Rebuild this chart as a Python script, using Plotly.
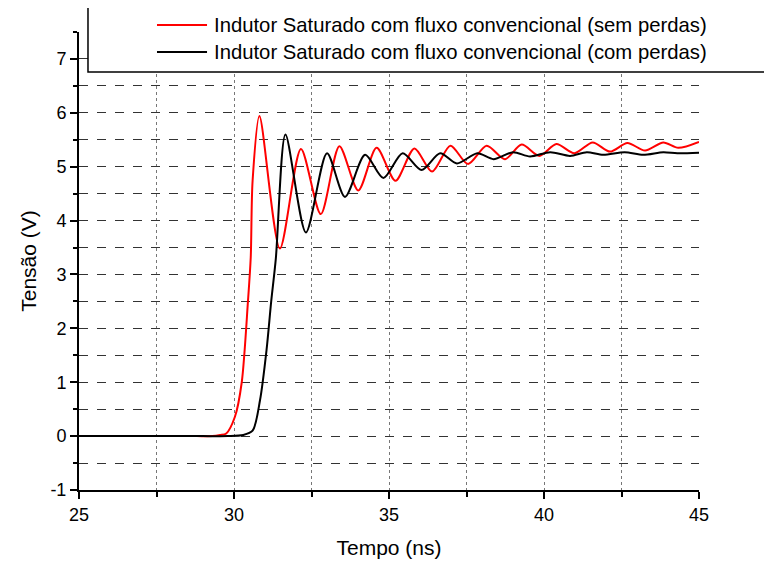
import plotly.graph_objects as go

# ---- data ----
series_names = [
    "Indutor Saturado com fluxo convencional (sem perdas)",
    "Indutor Saturado com fluxo convencional (com perdas)",
]
series_colors = ["#ff0000", "#000000"]

t_sem = [25.0, 26.0, 27.0, 28.0, 28.8, 29.3, 29.55, 29.75, 30.03, 30.25, 30.45, 30.54, 30.6, 30.82,
         31.48, 32.16, 32.8, 33.4, 34.01, 34.6, 35.21, 35.82, 36.39,
         36.98, 37.55, 38.15, 38.74, 39.28, 39.85, 40.4, 40.98, 41.57,
         42.13, 42.69, 43.26, 43.85, 44.33, 45.0]
v_sem = [0.0, 0.0, 0.0, 0.0, 0.0, 0.0, 0.02, 0.05, 0.36, 1.0, 2.5, 3.32, 4.74, 5.94,
         3.48, 5.33, 4.12, 5.38, 4.56, 5.35, 4.74, 5.34, 4.91,
         5.39, 5.05, 5.39, 5.14, 5.41, 5.2, 5.42, 5.25, 5.45,
         5.28, 5.44, 5.3, 5.45, 5.35, 5.46]

t_com = [25.0, 26.0, 27.0, 28.0, 29.0, 29.8, 30.3, 30.6, 30.84, 31.05, 31.2, 31.35, 31.66,
         32.32, 33.0, 33.58, 34.23, 34.82, 35.44, 36.05, 36.65, 37.19,
         37.85, 38.37, 39.0, 39.55, 40.2, 40.84, 41.38, 41.91, 42.6,
         43.2, 43.85, 44.3, 45.0]
v_com = [0.0, 0.0, 0.0, 0.0, 0.0, 0.0, 0.02, 0.1, 0.67, 1.6, 2.5, 3.3, 5.6,
         3.78, 5.25, 4.44, 5.22, 4.79, 5.25, 4.94, 5.25, 5.06,
         5.25, 5.14, 5.27, 5.19, 5.27, 5.2, 5.27, 5.22, 5.27,
         5.22, 5.27, 5.25, 5.26]

x_tick_vals = [25, 30, 35, 40, 45]
x_tick_text = ["25", "30", "35", "40", "45"]
y_tick_vals = [-1, 0, 1, 2, 3, 4, 5, 6, 7]
y_tick_text = ["-1", "0", "1", "2", "3", "4", "5", "6", "7"]

x_title = "Tempo (ns)"
y_title = "Tensão (V)"

FONT = "Liberation Sans, Arial, sans-serif"

fig = go.Figure()
for t, v, name, col in zip([t_sem, t_com], [v_sem, v_com], series_names, series_colors):
    fig.add_trace(go.Scatter(x=t, y=v, mode="lines", name=name,
                             line=dict(color=col, width=2, shape="spline", smoothing=0.8),
                             showlegend=False))

axis_common = dict(
    showline=True, linecolor="black", linewidth=2,
    ticks="outside", tickcolor="black", tickwidth=1.5, ticklen=7,
    tickfont=dict(family=FONT, size=18, color="black"),
    showgrid=True, zeroline=False, mirror=False, automargin=False,
)

fig.update_xaxes(
    range=[25, 45], tickmode="array", tickvals=x_tick_vals, ticktext=x_tick_text,
    gridcolor="#777777", griddash="dot", gridwidth=1,
    minor=dict(dtick=2.5, tick0=25, ticks="outside", ticklen=5, tickcolor="black", tickwidth=1.5,
               showgrid=True, gridcolor="#777777", griddash="dot", gridwidth=1),
    title=dict(text=x_title, font=dict(family=FONT, size=21, color="black"), standoff=17),
    **axis_common,
)
fig.update_yaxes(
    range=[-1, 7.5], tickmode="array", tickvals=y_tick_vals, ticktext=y_tick_text,
    gridcolor="#333333", griddash="dash", gridwidth=1,
    minor=dict(dtick=0.5, tick0=0, ticks="outside", ticklen=4, tickcolor="black", tickwidth=1.5,
               showgrid=True, gridcolor="#333333", griddash="dash", gridwidth=1),
    title=dict(text=y_title, font=dict(family=FONT, size=21, color="black"), standoff=8),
    **axis_common,
)

# legend box drawn manually (paper coords relative to the plot area)
fig.add_shape(type="rect", xref="paper", yref="paper",
              x0=0.0145, x1=1.2, y0=0.9127, y1=1.0546,
              fillcolor="white", line=dict(color="black", width=1.5), layer="above")
legend_y = [1.0153, 0.9563]
for name, col, yy in zip(series_names, series_colors, legend_y):
    fig.add_shape(type="line", xref="paper", yref="paper",
                  x0=0.1258, x1=0.2065, y0=yy, y1=yy,
                  line=dict(color=col, width=2), layer="above")
    fig.add_annotation(xref="paper", yref="paper", x=0.2145, y=yy,
                       xanchor="left", yanchor="middle", showarrow=False,
                       text=name, font=dict(family=FONT, size=20.3, color="black"))

# page body adds an 8px offset; compensate so the plot area lands where it should
fig.update_layout(
    width=764, height=558,
    margin=dict(l=71, r=73, t=24, b=76),
    paper_bgcolor="white", plot_bgcolor="white",
    showlegend=False,
)

fig.write_html("out.html")
